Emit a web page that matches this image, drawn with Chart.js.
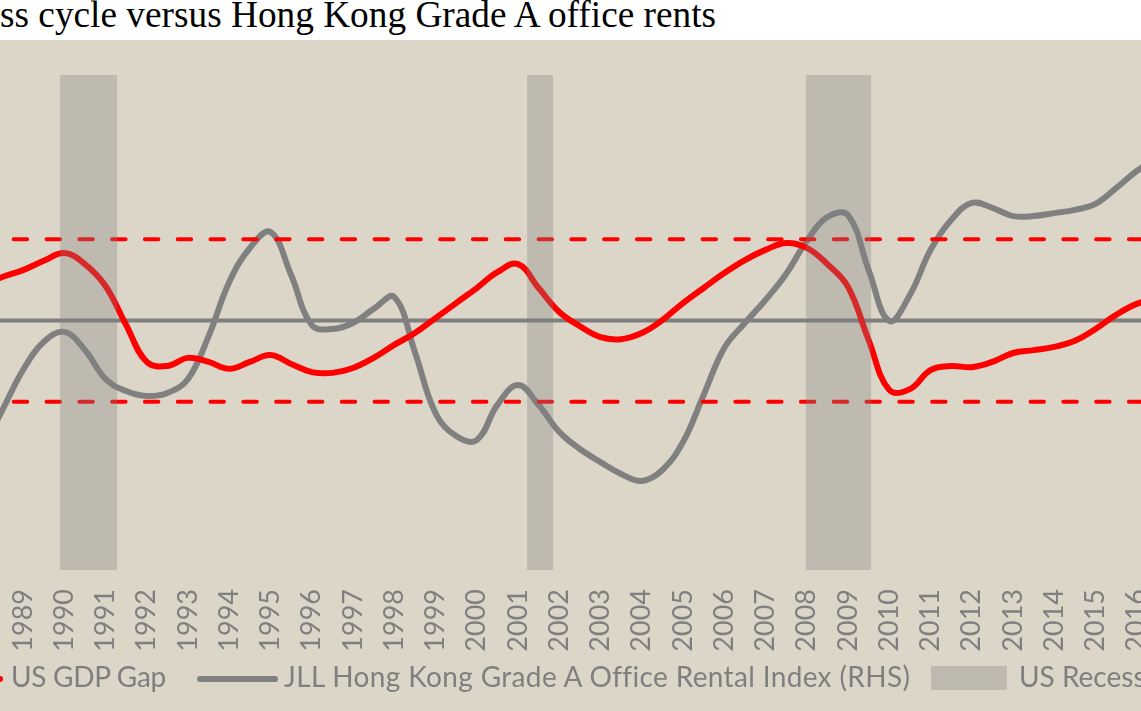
<!DOCTYPE html>
<html><head><meta charset="utf-8">
<script src="https://cdn.jsdelivr.net/npm/chart.js@4"></script>
<style>
html,body{margin:0;padding:0;width:1141px;height:711px;overflow:hidden;background:#fff;}
#title{position:absolute;left:0;top:-4px;font-family:"Liberation Serif","Times New Roman",serif;font-size:37.3px;line-height:37px;color:#000;white-space:nowrap;}
#panel{position:absolute;left:0;top:40px;width:1141px;height:671px;background:#DCD6C8;overflow:hidden;}
#wrap{position:absolute;left:-60px;top:0;width:1330px;height:671px;}
.lg{position:absolute;font-family:Lato,sans-serif;font-size:28px;line-height:28px;color:#7F7F7F;white-space:nowrap;}
.ln{position:absolute;height:6px;border-radius:3px;}
</style></head><body>
<div id="title">ss cycle versus Hong Kong Grade A office rents</div>
<div id="panel">
  <div id="wrap"><canvas id="c" width="1330" height="671"></canvas></div>
  <div class="ln" style="left:-77px;top:636px;width:80px;background:#FF0000;"></div>
  <div class="lg" style="left:11px;top:622px;letter-spacing:-0.3px;">US GDP Gap</div>
  <div class="ln" style="left:197px;top:636px;width:81px;background:#808080;"></div>
  <div class="lg" style="left:284px;top:622px;letter-spacing:0.35px;">JLL Hong Kong Grade A Office Rental Index (RHS)</div>
  <div style="position:absolute;left:931px;top:626px;width:76px;height:24px;background:#BFBAB0;"></div>
  <div class="lg" style="left:1019px;top:622px;">US Recession</div>
</div>
<script>
const years = [1988.0,1988.5,1989.0,1989.5,1990.0,1990.5,1991.0,1991.5,1992.0,1992.5,1993.0,1993.5,1994.0,1994.5,1995.0,1995.5,1996.0,1996.5,1997.0,1997.5,1998.0,1998.5,1999.0,1999.5,2000.0,2000.5,2001.0,2001.5,2002.0,2002.5,2003.0,2003.5,2004.0,2004.5,2005.0,2005.5,2006.0,2006.5,2007.0,2007.5,2008.0,2008.5,2009.0,2009.5,2010.0,2010.5,2011.0,2011.5,2012.0,2012.5,2013.0,2013.5,2014.0,2014.5,2015.0,2015.5,2016.0,2016.5];
const gdpGap = [0.85,1.07,1.24,1.47,1.66,1.39,0.85,-0.11,-1.02,-1.12,-0.92,-1.02,-1.19,-1.02,-0.85,-1.07,-1.27,-1.29,-1.17,-0.92,-0.60,-0.31,0.06,0.43,0.80,1.19,1.39,0.80,0.21,-0.14,-0.41,-0.46,-0.31,0.01,0.43,0.80,1.17,1.49,1.74,1.91,1.79,1.39,0.83,-0.48,-1.71,-1.69,-1.22,-1.12,-1.15,-1.02,-0.80,-0.73,-0.65,-0.50,-0.21,0.14,0.41,0.55];
const rentIndex = [48.5,64.6,80.8,92.1,96.2,88.9,77.2,72.3,70.3,71.5,77.2,94.5,116.4,130.1,136.6,119.2,99.0,97.4,99.8,105.5,110.3,88.1,63.4,54.1,52.5,66.7,74.7,66.7,55.8,48.9,43.6,38.8,36.0,40.4,51.7,70.7,89.7,99.8,109.1,119.6,132.9,142.6,143.4,121.2,100.6,111.1,129.3,141.4,148.3,146.3,143.0,143.0,144.2,145.5,147.9,154.3,161.2,166.5];
const tickYears = [1988,1989,1990,1991,1992,1993,1994,1995,1996,1997,1998,1999,2000,2001,2002,2003,2004,2005,2006,2007,2008,2009,2010,2011,2012,2013,2014,2015,2016,2017,2018];
const recessions = [[1989.9,1991.28],[2001.22,2001.85],[2007.98,2009.56]];
const refLineYears = [1988.0,2019.0];
const gapBandUpper = [2,2];
const gapBandLower = [-2,-2];
const zeroLine = [0,0];

const PX_PER_YEAR = 41.25;
const xMin = 1989 - 83/PX_PER_YEAR;
const xMax = xMin + 1330/PX_PER_YEAR;

const pts = (xs, ys) => xs.map((x,i)=>({x:x, y:ys[i]}));

const recessionPlugin = {
  id:'recess',
  afterDatasetsDraw(chart){
    const {ctx, chartArea, scales} = chart;
    ctx.save();
    ctx.fillStyle = 'rgba(128,128,128,0.32)';
    recessions.forEach(([a,b])=>{
      const x0 = scales.x.getPixelForValue(a), x1 = scales.x.getPixelForValue(b);
      ctx.fillRect(x0, chartArea.top, x1-x0, chartArea.bottom-chartArea.top);
    });
    ctx.restore();
  }
};

new Chart(document.getElementById('c'), {
  type:'line',
  data:{datasets:[
    {label:'US GDP Gap', data:pts(years,gdpGap), yAxisID:'y', borderColor:'#FF0000', borderWidth:6, pointRadius:0, tension:0.4, borderCapStyle:'round', borderJoinStyle:'round'},
    {label:'upper', data:pts(refLineYears,gapBandUpper), yAxisID:'y', borderColor:'#FF0000', borderWidth:4, borderDash:[13.5,19.3], borderDashOffset:0.85, borderCapStyle:'round', pointRadius:0},
    {label:'lower', data:pts(refLineYears,gapBandLower), yAxisID:'y', borderColor:'#FF0000', borderWidth:4, borderDash:[13.5,19.3], borderDashOffset:0.85, borderCapStyle:'round', pointRadius:0},
    {label:'JLL Hong Kong Grade A Office Rental Index (RHS)', data:pts(years,rentIndex), yAxisID:'y1', borderColor:'#808080', borderWidth:6, pointRadius:0, tension:0.4, borderCapStyle:'round', borderJoinStyle:'round'},
    {label:'zero', data:pts(refLineYears,zeroLine), yAxisID:'y', borderColor:'#7F7F7F', borderWidth:4, pointRadius:0}
  ]},
  options:{
    responsive:false, animation:false, devicePixelRatio:1,
    layout:{padding:{top:35,left:0,right:0,bottom:0}},
    plugins:{legend:{display:false}, tooltip:{enabled:false}},
    scales:{
      x:{type:'linear', min:xMin, max:xMax,
        grid:{display:false, drawTicks:false}, border:{display:false},
        afterBuildTicks(s){ s.ticks = tickYears.map(v=>({value:v})); },
        ticks:{autoSkip:false, maxRotation:90, minRotation:90, padding:19, color:'#7F7F7F',
          font:{family:'Lato', size:27}, callback:(v)=>String(v)},
        afterFit(s){ s.paddingLeft=0; s.paddingRight=0; s.height=141; }
      },
      y:{display:false, min:-6.145, max:6.047},
      y1:{display:false, position:'right', min:0, max:200}
    }
  },
  plugins:[recessionPlugin]
});
</script>
</body></html>
